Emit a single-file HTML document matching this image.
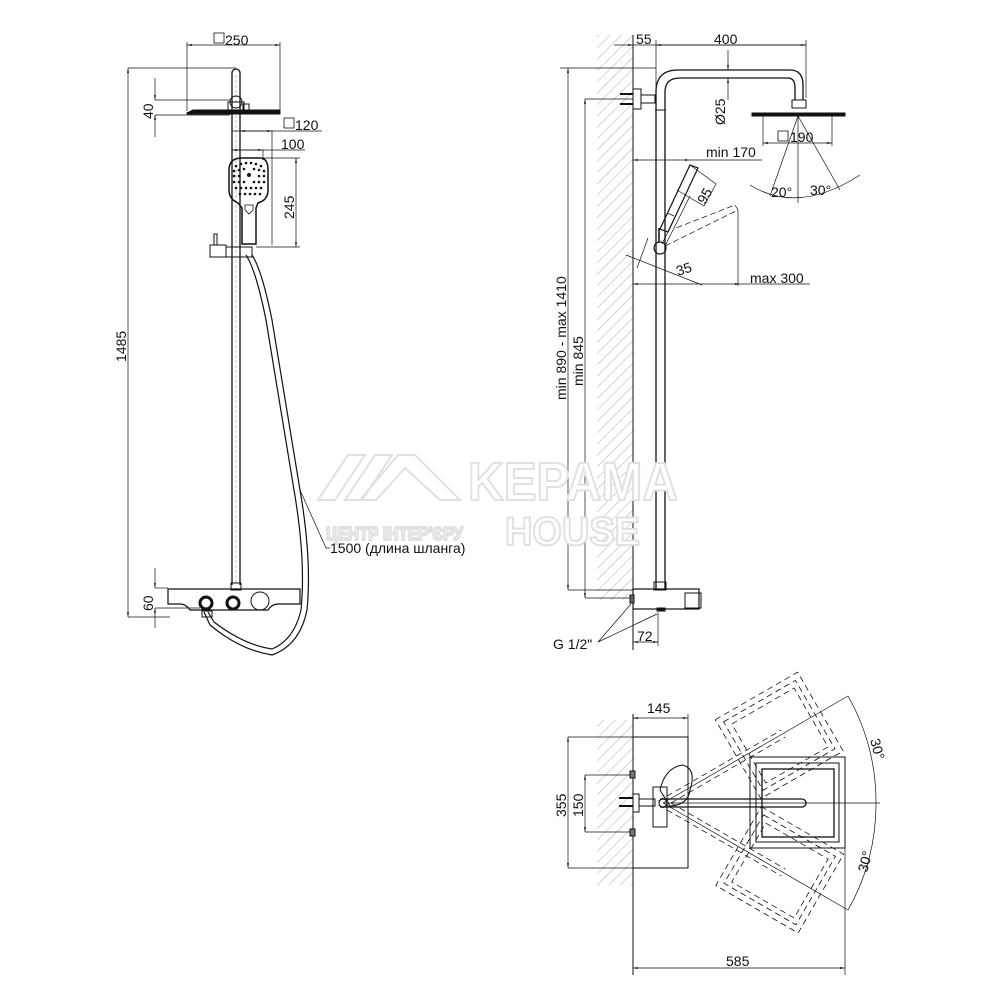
<!DOCTYPE html>
<html><head><meta charset="utf-8"><style>
html,body{margin:0;padding:0;background:#fff;}
svg{display:block}
text{font-family:"Liberation Sans","DejaVu Sans",sans-serif;fill:#111;}
</style></head><body>
<svg width="1000" height="1000" viewBox="0 0 1000 1000" xmlns="http://www.w3.org/2000/svg">
<defs>
<pattern id="h" width="8" height="8" patternUnits="userSpaceOnUse" patternTransform="rotate(45)">
<line x1="0" y1="0" x2="0" y2="8" stroke="#999" stroke-width="0.8"/>
</pattern>
<marker id="a" viewBox="0 0 10 10" refX="10" refY="5" markerWidth="7" markerHeight="7" orient="auto-start-reverse"><path d="M0,3 L10,5 L0,7 z" fill="#111"/></marker>
</defs>
<g stroke="#111" stroke-width="1" fill="none">

<!-- ========== LEFT VIEW ========== -->
<path d="M232,585 V73 A4,4 0 0 1 240,73 V585" stroke-width="1.3"/>
<line x1="236" y1="75" x2="236" y2="585" stroke="#888" stroke-dasharray="3,2" stroke-width="0.5"/>
<circle cx="236" cy="102" r="6"/>
<rect x="228" y="102" width="16" height="8"/>
<rect x="243" y="104" width="6" height="6"/>
<path d="M187,113 L193,110 L280,110 L280,114 L187,114 Z" fill="#111"/>
<line x1="187" y1="45" x2="280" y2="45" marker-start="url(#a)" marker-end="url(#a)" stroke-width="0.7"/>
<line x1="187" y1="42" x2="187" y2="111" stroke-width="0.7"/>
<line x1="280" y1="42" x2="280" y2="111" stroke-width="0.7"/>
<rect x="214" y="33" width="10" height="10" stroke-width="0.8"/>
<line x1="128" y1="68" x2="236" y2="68" stroke-width="0.7"/>
<line x1="128" y1="68" x2="128" y2="617" marker-start="url(#a)" marker-end="url(#a)" stroke-width="0.7"/>
<line x1="128" y1="617" x2="170" y2="617" stroke-width="0.7"/>
<line x1="155" y1="100" x2="230" y2="100" stroke-width="0.7"/>
<line x1="155" y1="115" x2="230" y2="115" stroke-width="0.7"/>
<line x1="155" y1="78" x2="155" y2="100" marker-end="url(#a)" stroke-width="0.7"/>
<line x1="155" y1="137" x2="155" y2="115" marker-end="url(#a)" stroke-width="0.7"/>
<line x1="232" y1="131" x2="322" y2="131" stroke-width="0.7"/>
<line x1="240" y1="131" x2="272" y2="131" marker-start="url(#a)" marker-end="url(#a)" stroke-width="0.7"/>
<line x1="272" y1="131" x2="272" y2="245" stroke-width="0.7"/>
<line x1="232" y1="131" x2="232" y2="160" stroke-width="0.7"/>
<rect x="284" y="118" width="10" height="10" stroke-width="0.8"/>
<line x1="232" y1="150" x2="305" y2="150" stroke-width="0.7"/>
<line x1="232" y1="150" x2="263" y2="150" marker-start="url(#a)" marker-end="url(#a)" stroke-width="0.7"/>
<line x1="263" y1="150" x2="263" y2="160" stroke-width="0.7"/>
<path d="M229,170 Q229,158 242,158 L260,158 Q268,158 268,170 L268,190 Q268,200 258,203 L256,208 L256,244 L242,244 L242,208 L238,203 Q229,199 229,190 Z" stroke-width="1.5"/>
<path d="M245,205 L253,205 L253,210 L249,214 L245,210 Z" stroke-width="0.8"/>
<g fill="#111" stroke="none">
<circle cx="236" cy="166" r="1.3"/><circle cx="241" cy="164" r="1.3"/><circle cx="246" cy="163" r="1.3"/><circle cx="251" cy="163" r="1.3"/><circle cx="256" cy="164" r="1.3"/><circle cx="261" cy="166" r="1.3"/>
<circle cx="234" cy="171" r="1.3"/><circle cx="239" cy="170" r="1.3"/><circle cx="244" cy="169" r="1.3"/><circle cx="254" cy="169" r="1.3"/><circle cx="259" cy="170" r="1.3"/><circle cx="264" cy="171" r="1.3"/>
<circle cx="234" cy="176" r="1.3"/><circle cx="239" cy="176" r="1.3"/><circle cx="249" cy="175" r="2"/><circle cx="259" cy="176" r="1.3"/><circle cx="264" cy="176" r="1.3"/>
<circle cx="234" cy="182" r="1.3"/><circle cx="239" cy="182" r="1.3"/><circle cx="244" cy="182" r="1.3"/><circle cx="254" cy="182" r="1.3"/><circle cx="259" cy="182" r="1.3"/><circle cx="264" cy="182" r="1.3"/>
<circle cx="236" cy="188" r="1.3"/><circle cx="241" cy="188" r="1.3"/><circle cx="246" cy="188" r="1.3"/><circle cx="251" cy="188" r="1.3"/><circle cx="256" cy="188" r="1.3"/><circle cx="261" cy="188" r="1.3"/>
<circle cx="240" cy="194" r="1.3"/><circle cx="245" cy="194" r="1.3"/><circle cx="250" cy="194" r="1.3"/><circle cx="255" cy="194" r="1.3"/><circle cx="260" cy="194" r="1.3"/>
</g>
<line x1="262" y1="158" x2="300" y2="158" stroke-width="0.7"/>
<line x1="256" y1="247" x2="300" y2="247" stroke-width="0.7"/>
<line x1="296" y1="158" x2="296" y2="247" marker-start="url(#a)" marker-end="url(#a)" stroke-width="0.7"/>
<rect x="210" y="245" width="16" height="12"/>
<path d="M214,245 V234 H217 V245"/>
<rect x="226" y="247" width="26" height="10"/>
<path d="M252,255 Q262,270 272,320 Q285,400 300,490 Q312,560 307,610 Q300,645 272,655 Q240,650 210,625 L204,612" stroke-width="1.2"/>
<path d="M246,255 Q256,270 266,320 Q279,400 294,490 Q306,560 301,610 Q294,640 272,649 Q244,645 214,622 L208,612" stroke-width="1.2"/>
<path d="M300,490 L326,548 L330,548" stroke-width="0.7"/>
<rect x="231" y="583" width="10" height="7"/>
<path d="M168,589 L300,589 L300,604 L278,604 Q272,604 268,610 L190,610 Q186,604 180,604 L168,604 Z" stroke-width="1.2"/>
<circle cx="206" cy="603" r="6" stroke-width="3"/>
<circle cx="233" cy="603" r="6" stroke-width="3"/>
<circle cx="260" cy="601" r="9"/>
<rect x="202" y="611" width="10" height="6"/>
<line x1="155" y1="588" x2="168" y2="588" stroke-width="0.7"/>
<line x1="155" y1="608" x2="200" y2="608" stroke-width="0.7"/>
<line x1="155" y1="568" x2="155" y2="588" marker-end="url(#a)" stroke-width="0.7"/>
<line x1="155" y1="628" x2="155" y2="608" marker-end="url(#a)" stroke-width="0.7"/>

<!-- ========== MIDDLE VIEW ========== -->
<rect x="597" y="35" width="36" height="565" fill="url(#h)" stroke="none"/>
<line x1="633" y1="35" x2="633" y2="650"/>
<path d="M656,590 V110 V92 Q656,70 678,70 L790,70 Q803,70 803,85 L803,100" stroke-width="1.3"/>
<path d="M665,590 V110 V92 Q665,78 680,78 L788,78 Q795,78 795,88 L795,100" stroke-width="1.3"/>
<line x1="655" y1="110" x2="666" y2="110"/>
<rect x="792" y="100" width="14" height="8"/>
<path d="M752,113 L845,113 L845,116 L752,116 Z" fill="#111"/>
<rect x="633" y="89" width="8" height="20"/>
<rect x="641" y="95" width="14" height="8"/>
<path d="M620,94 H633 M620,104 H633" stroke-width="2"/>
<line x1="633" y1="45" x2="806" y2="45" stroke-width="0.7"/>
<line x1="614" y1="45" x2="633" y2="45" marker-end="url(#a)" stroke-width="0.7"/>
<line x1="656" y1="45" x2="806" y2="45" marker-start="url(#a)" marker-end="url(#a)" stroke-width="0.7"/>
<line x1="656" y1="40" x2="656" y2="90" stroke-width="0.7"/>
<line x1="806" y1="40" x2="806" y2="98" stroke-width="0.7"/>
<line x1="728" y1="50" x2="728" y2="70" marker-end="url(#a)" stroke-width="0.7"/>
<line x1="728" y1="100" x2="728" y2="78" marker-end="url(#a)" stroke-width="0.7"/>
<line x1="763" y1="116" x2="763" y2="146" stroke-width="0.7"/>
<line x1="832" y1="116" x2="832" y2="146" stroke-width="0.7"/>
<line x1="763" y1="143" x2="832" y2="143" marker-start="url(#a)" marker-end="url(#a)" stroke-width="0.7"/>
<rect x="778" y="131" width="10" height="10" stroke-width="0.8"/>
<path d="M798,116 L770,196 M798,116 V203 M798,116 L840,190" stroke-width="0.7"/>
<path d="M750,185 Q798,215 860,175" stroke-width="0.7"/>
<line x1="633" y1="160" x2="690" y2="160" marker-start="url(#a)" marker-end="url(#a)" stroke-width="0.7"/>
<line x1="690" y1="160" x2="762" y2="160" stroke-width="0.7"/>
<line x1="633" y1="284" x2="740" y2="284" marker-start="url(#a)" marker-end="url(#a)" stroke-width="0.7"/>
<line x1="740" y1="284" x2="810" y2="284" stroke-width="0.7"/>
<line x1="738" y1="210" x2="738" y2="286" stroke-width="0.7"/>
<path d="M690,165 L698,168 L668,232 L660,229 Z" stroke-width="1.2"/>
<path d="M667,213 L674,216 M690,165 L716,184 L704,206 L677,190" stroke-width="0.7"/>
<path d="M662,244 L686,194 M665,246 L690,196" stroke-width="0.7"/>
<circle cx="660" cy="248" r="6" stroke-width="1.2"/>
<path d="M659,242 V228" stroke-width="1.5"/>
<path d="M665,246 L738,210 L735,205 L676,228" stroke-dasharray="6,3" stroke-width="0.7"/>
<path d="M626,255 L702,285 M637,268 L648,238" stroke-width="0.7"/>
<line x1="560" y1="68" x2="656" y2="68" stroke-width="0.7"/>
<line x1="568" y1="68" x2="568" y2="590" marker-start="url(#a)" marker-end="url(#a)" stroke-width="0.7"/>
<line x1="568" y1="590" x2="633" y2="590" stroke-width="0.7"/>
<line x1="585" y1="99" x2="633" y2="99" stroke-width="0.7"/>
<line x1="585" y1="99" x2="585" y2="598" marker-start="url(#a)" marker-end="url(#a)" stroke-width="0.7"/>
<line x1="585" y1="598" x2="633" y2="598" stroke-width="0.7"/>
<rect x="654" y="582" width="12" height="8"/>
<rect x="633" y="589" width="66" height="20" stroke-width="1.2"/>
<rect x="685" y="593" width="16" height="15"/>
<rect x="630" y="595" width="4" height="8" fill="#666"/>
<rect x="657" y="608" width="8" height="3" fill="#111"/>
<path d="M598,642 L631,604 M598,642 L657,614" stroke-width="0.7"/>
<line x1="633" y1="610" x2="633" y2="646" stroke-width="0.7"/>
<line x1="658" y1="612" x2="658" y2="646" stroke-width="0.7"/>
<line x1="633" y1="642" x2="658" y2="642" marker-start="url(#a)" marker-end="url(#a)" stroke-width="0.7"/>

<!-- ========== BOTTOM VIEW ========== -->
<rect x="597" y="720" width="36" height="165" fill="url(#h)" stroke="none"/>
<line x1="633" y1="714" x2="633" y2="975"/>
<rect x="633" y="737" width="55" height="131"/>
<line x1="688" y1="714" x2="688" y2="737" stroke-width="0.7"/>
<line x1="633" y1="718" x2="688" y2="718" marker-start="url(#a)" marker-end="url(#a)" stroke-width="0.7"/>
<line x1="568" y1="737" x2="633" y2="737" stroke-width="0.7"/>
<line x1="568" y1="868" x2="633" y2="868" stroke-width="0.7"/>
<line x1="568" y1="737" x2="568" y2="868" marker-start="url(#a)" marker-end="url(#a)" stroke-width="0.7"/>
<line x1="585" y1="775" x2="633" y2="775" stroke-width="0.7"/>
<line x1="585" y1="832" x2="633" y2="832" stroke-width="0.7"/>
<line x1="585" y1="775" x2="585" y2="832" marker-start="url(#a)" marker-end="url(#a)" stroke-width="0.7"/>
<rect x="630" y="771" width="5" height="7" fill="#777"/>
<rect x="630" y="829" width="5" height="7" fill="#777"/>
<rect x="633" y="794" width="6" height="18"/>
<path d="M619,798 H633 M619,806 H633" stroke-width="2"/>
<rect x="639" y="799" width="16" height="7"/>
<rect x="653" y="787" width="14" height="40"/>
<path d="M660,790 Q665,768 682,765 Q697,768 690,790 Q688,805 670,806 Z"/>
<path d="M660,799 H802 A4,4 0 0 1 802,807 H660" stroke-width="1.3"/>
<circle cx="663" cy="803" r="4"/>
<rect x="750" y="757" width="95" height="91"/>
<rect x="756" y="763" width="83" height="79"/>
<rect x="762" y="769" width="72" height="68" stroke-width="1.3"/>
<g stroke-dasharray="6,4" stroke-width="0.8">
<g transform="rotate(-30 663 803)">
<rect x="750" y="757" width="95" height="91"/><rect x="756" y="763" width="83" height="79"/><rect x="762" y="769" width="72" height="68"/>
<path d="M660,799 H802 M660,807 H802"/>
</g>
<g transform="rotate(30 663 803)">
<rect x="750" y="757" width="95" height="91"/><rect x="756" y="763" width="83" height="79"/><rect x="762" y="769" width="72" height="68"/>
<path d="M660,799 H802 M660,807 H802"/>
</g>
</g>
<path d="M663,803 L848,696 M663,803 H880 M663,803 L848,910" stroke-width="0.7"/>
<path d="M848,696 A213,213 0 0 1 876,803 A213,213 0 0 1 848,910" stroke-width="0.7"/>
<line x1="845" y1="848" x2="845" y2="975" stroke-width="0.7"/>
<line x1="633" y1="968" x2="845" y2="968" marker-start="url(#a)" marker-end="url(#a)" stroke-width="0.7"/>
</g>

<!-- watermark -->
<g fill="#fff" stroke="#e0e0e0" stroke-width="2">
<path d="M348,455 L365,455 L335,500 L318,500 Z M375,455 L392,455 L362,500 L345,500 Z M398,455 L415,455 L460,500 L440,500 L405,468 L376,500 L360,500 Z"/>
<text x="468" y="500" font-size="54" font-weight="bold" style="font-family:'Liberation Sans Narrow','Liberation Sans',sans-serif;fill:#fff" textLength="210" lengthAdjust="spacingAndGlyphs">KEPAMA</text>
<text x="505" y="545" font-size="40" font-weight="bold" style="font-family:'Liberation Sans Narrow','Liberation Sans',sans-serif;fill:#fff" textLength="135" lengthAdjust="spacingAndGlyphs">HOUSE</text>
<text x="326" y="540" font-size="18" font-weight="bold" style="fill:#fff" textLength="137" lengthAdjust="spacingAndGlyphs">ЦЕНТР ІНТЕР'ЄРУ</text>
</g>

<g font-size="14">
<text x="225" y="45">250</text>
<text x="295" y="130">120</text>
<text x="281" y="149">100</text>
<text transform="translate(294,219) rotate(-90)">245</text>
<text transform="translate(153,119) rotate(-90)">40</text>
<text transform="translate(126,362) rotate(-90)">1485</text>
<text transform="translate(153,611) rotate(-90)">60</text>
<text x="330" y="553">1500 (длина шланга)</text>
<text x="636" y="44">55</text>
<text x="714" y="44">400</text>
<text transform="translate(725,125) rotate(-90)">Ø25</text>
<text x="790" y="142">190</text>
<text x="706" y="157">min 170</text>
<text x="771" y="197">20°</text>
<text x="810" y="195">30°</text>
<text transform="translate(705,205) rotate(-60)">95</text>
<text transform="translate(678,276) rotate(-18)">35</text>
<text x="750" y="283">max 300</text>
<text transform="translate(566,400) rotate(-90)">min 890 - max 1410</text>
<text transform="translate(583,386) rotate(-90)">min 845</text>
<text x="553" y="649">G 1/2"</text>
<text x="637" y="641">72</text>
<text x="647" y="713">145</text>
<text transform="translate(566,817) rotate(-90)">355</text>
<text transform="translate(583,817) rotate(-90)">150</text>
<text x="726" y="966">585</text>
<text transform="translate(870,740) rotate(75)">30°</text>
<text transform="translate(867,873) rotate(-75)">30°</text>
</g>
</svg>
</body></html>
